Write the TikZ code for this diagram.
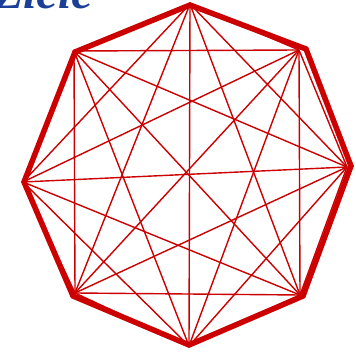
\documentclass[tikz,border=0pt]{standalone}
\usepackage{fontspec}
\newfontfamily\titlefont{Liberation Serif}
\definecolor{zielrot}{HTML}{CC0000}
\definecolor{zielblau}{HTML}{1B3E96}
\tikzset{
  rand/.style={draw=zielrot, line width=5.5pt, line join=miter},
  sehne/.style={draw=zielrot, line width=1.4pt},
  titel/.style={text=zielblau, font=\titlefont\bfseries\itshape\fontsize{48}{48}\selectfont, inner sep=0pt, anchor=base west}
}
\begin{document}
\begin{tikzpicture}[x=1pt, y=-1pt]
\useasboundingbox (0,0) rectangle (356,352);
\node[titel] (ziele) at (-6,9) {Ziele};
% Ecken der Sehnen
\coordinate (v1) at (190,4);
\coordinate (v2) at (299,50);
\coordinate (v3) at (347,167);
\coordinate (v4) at (300,295);
\coordinate (v5) at (189,346);
\coordinate (v6) at (75,293);
\coordinate (v7) at (23,182);
\coordinate (v8) at (74,51);
% Ecken des Achtecks
\coordinate (o1) at (190,5);
\coordinate (o2) at (306,49);
\coordinate (o3) at (351,166);
\coordinate (o4) at (303,296);
\coordinate (o5) at (189,345);
\coordinate (o6) at (73,296);
\coordinate (o7) at (24,182);
\coordinate (o8) at (75,52);
\foreach \i in {1,...,7}{
  \pgfmathtruncatemacro{\s}{\i+1}
  \foreach \j in {\s,...,8}{
    \draw[sehne] (v\i)--(v\j);
  }
}
\draw[rand] (o1)--(o2)--(o3)--(o4)--(o5)--(o6)--(o7)--(o8)--cycle;
\end{tikzpicture}
\end{document}
